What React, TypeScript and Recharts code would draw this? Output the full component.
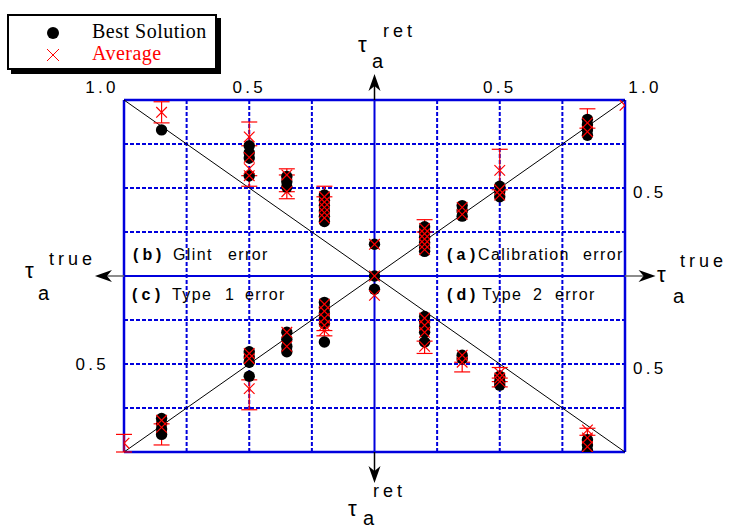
import { ScatterChart, Scatter, XAxis, YAxis, ReferenceLine, ErrorBar, Legend } from "recharts";

// each entry: [tau true, tau retrieved, optional error [lower, upper] on the retrieved value]
type Obs = [number, number] | [number, number, [number, number]];

const bestCalibration: Obs[] = [
  [0.2, 0.28], [0.2, 0.25], [0.2, 0.22], [0.2, 0.19], [0.2, 0.16], [0.2, 0.14],
  [0.35, 0.4], [0.35, 0.37], [0.35, 0.34],
  [0.5, 0.51], [0.5, 0.48], [0.5, 0.45],
  [0.85, 0.89], [0.85, 0.86], [0.85, 0.83], [0.85, 0.8],
  [0, 0.18], [0, 0],
];
const avgCalibration: Obs[] = [
  [1.0, 0.97],
  [0.85, 0.87, [0.03, 0.08]], [0.85, 0.82],
  [0.5, 0.6, [0.11, 0.12]], [0.5, 0.49], [0.5, 0.46],
  [0.35, 0.39], [0.35, 0.35],
  [0.2, 0.27, [0.02, 0.05]], [0.2, 0.24], [0.2, 0.21], [0.2, 0.18], [0.2, 0.15],
  [0, 0.18], [0, 0],
];

const bestGlint: Obs[] = [
  [0.85, 0.83],
  [0.5, 0.74], [0.5, 0.7], [0.5, 0.67], [0.5, 0.57],
  [0.35, 0.565], [0.35, 0.535], [0.35, 0.505],
  [0.2, 0.46], [0.2, 0.43], [0.2, 0.4], [0.2, 0.37], [0.2, 0.34], [0.2, 0.31],
];
const avgGlint: Obs[] = [
  [0.85, 0.93, [0.06, 0.06]],
  [0.5, 0.79, [0.05, 0.085]], [0.5, 0.674], [0.5, 0.61], [0.5, 0.57, [0.06, 0]],
  [0.35, 0.574, [0, 0.035]], [0.35, 0.479, [0.04, 0]],
  [0.2, 0.45, [0, 0.06]], [0.2, 0.42], [0.2, 0.39], [0.2, 0.36], [0.2, 0.33],
];

const bestType1: Obs[] = [
  [0.85, 0.81], [0.85, 0.84], [0.85, 0.87], [0.85, 0.9],
  [0.5, 0.43], [0.5, 0.46], [0.5, 0.49], [0.5, 0.57],
  [0.35, 0.32], [0.35, 0.36], [0.35, 0.4], [0.35, 0.43],
  [0.2, 0.15], [0.2, 0.18], [0.2, 0.21], [0.2, 0.24], [0.2, 0.27], [0.2, 0.375],
  [0, 0.075],
];
const avgType1: Obs[] = [
  [1.0, 0.95, [0.05, 0.05]],
  [0.85, 0.82], [0.85, 0.86, [0.02, 0.1]],
  [0.5, 0.44], [0.5, 0.47], [0.5, 0.64, [0.05, 0.12]],
  [0.35, 0.32], [0.35, 0.4],
  [0.2, 0.16], [0.2, 0.2], [0.2, 0.24], [0.2, 0.28], [0.2, 0.31, [0, 0.03]],
  [0, 0.11],
];

const bestType2: Obs[] = [
  [0.2, 0.23], [0.2, 0.26], [0.2, 0.29], [0.2, 0.32], [0.2, 0.375],
  [0.35, 0.45], [0.35, 0.47],
  [0.5, 0.57], [0.5, 0.6], [0.5, 0.62],
  [0.85, 0.93], [0.85, 0.96], [0.85, 0.99], [0.85, 1.0],
];
const avgType2: Obs[] = [
  [0.2, 0.24], [0.2, 0.28], [0.2, 0.32], [0.2, 0.4, [0.03, 0.04]],
  [0.35, 0.45], [0.35, 0.49, [0, 0.055]],
  [0.5, 0.55, [0.03, 0.03]], [0.5, 0.58], [0.5, 0.6, [0, 0.03]],
  [0.85, 0.875, [0.01, 0.03]], [0.85, 0.92], [0.85, 0.97],
];

const topTicks = [-1, -0.5, 0.5, 1];
const bottomTicks = [-1, -0.5, 0.5, 1];
const leftTicks = [-0.5];
const rightTicks = [0.5, -0.5];
const gridSteps = [-0.75, -0.5, -0.25, 0.25, 0.5, 0.75];
const legendNames = ["Best Solution", "Average"];

// quadrant signs: (a) +/+, (b) -/+, (c) -/-, (d) +/-
const quadrants = [
  { best: bestCalibration, avg: avgCalibration, sx: 1, sy: 1 },
  { best: bestGlint, avg: avgGlint, sx: -1, sy: 1 },
  { best: bestType1, avg: avgType1, sx: -1, sy: -1 },
  { best: bestType2, avg: avgType2, sx: 1, sy: -1 },
];

const toPoints = (list: Obs[], sx: number, sy: number) =>
  list.map((o) => {
    const e = o[2];
    return {
      x: sx * o[0],
      y: sy * o[1],
      err: e ? (sy > 0 ? e : [e[1], e[0]]) : undefined,
    };
  });

const bestData = quadrants.flatMap((q) => toPoints(q.best, q.sx, q.sy));
const avgData = quadrants.flatMap((q) => toPoints(q.avg, q.sx, q.sy));

const BLUE = "#0000dd";
const RED = "#ff0000";
const SANS = "'Liberation Sans', Arial, sans-serif";
const fmt = (v: number) => Math.abs(v).toFixed(1);

const Dot = (p: any) => <circle cx={p.cx} cy={p.cy} r={5.7} fill="#000" />;
const Cross = (p: any) => (
  <g stroke={RED} strokeWidth={1.2}>
    <line x1={p.cx - 5.3} y1={p.cy - 5.3} x2={p.cx + 5.3} y2={p.cy + 5.3} />
    <line x1={p.cx - 5.3} y1={p.cy + 5.3} x2={p.cx + 5.3} y2={p.cy - 5.3} />
  </g>
);

const tickText = { fontFamily: SANS, fontSize: 17, letterSpacing: 3.3, fill: "#000" };

const TopTick = (p: any) => {
  const v = p.payload.value;
  const dx = v === -1 ? -22 : v === 1 ? 20 : 0;
  return (
    <text x={p.x + dx} y={p.y + 1} textAnchor="middle" {...tickText}>
      {fmt(v)}
    </text>
  );
};
const BottomTick = (p: any) => {
  const v = p.payload.value;
  const dx = v === -1 ? -27 : v === 1 ? 22 : -3;
  return (
    <text x={p.x + dx} y={p.y + 18} textAnchor="middle" {...tickText}>
      {fmt(v)}
    </text>
  );
};
const LeftTick = (p: any) => (
  <text x={p.x - 7} y={p.y + 6} textAnchor="end" {...tickText}>
    {fmt(p.payload.value)}
  </text>
);
const RightTick = (p: any) => (
  <text x={p.x} y={p.y + 10} textAnchor="start" {...tickText}>
    {fmt(p.payload.value)}
  </text>
);

const arrow = (color: string) => (p: any) => {
  const { x1, y1, x2, y2 } = p;
  const dx = x2 - x1;
  const dy = y2 - y1;
  const len = Math.hypot(dx, dy) || 1;
  const ux = dx / len;
  const uy = dy / len;
  const bx = x2 - ux * 17;
  const by = y2 - uy * 17;
  const nx = x2 - ux * 12;
  const ny = y2 - uy * 12;
  const px = -uy * 6;
  const py = ux * 6;
  return (
    <g>
      <line x1={x1} y1={y1} x2={nx} y2={ny} stroke={color} strokeWidth={1.5} />
      <polygon points={`${x2},${y2} ${bx + px},${by + py} ${nx},${ny} ${bx - px},${by - py}`} fill="#000" />
    </g>
  );
};

const LegendBox = () => (
  <div style={{ position: "relative", width: 214, height: 60 }}>
    <div style={{ position: "absolute", left: 4, top: 4, width: 210, height: 56, background: "#000" }} />
    <div
      style={{
        position: "absolute",
        left: 0,
        top: 0,
        width: 206,
        height: 52,
        border: "2px solid #000",
        background: "#fff",
      }}
    >
      <svg width={206} height={52} style={{ display: "block" }}>
        <circle cx={44} cy={17} r={6} fill="#000" />
        <text x={83} y={22} fontFamily="'Liberation Serif', serif" fontSize={20} letterSpacing={0.5} fill="#000">
          {legendNames[0]}
        </text>
        <g stroke={RED} strokeWidth={1}>
          <line x1={38} y1={33} x2={50} y2={45} />
          <line x1={38} y1={45} x2={50} y2={33} />
        </g>
        <text x={83} y={44} fontFamily="'Liberation Serif', serif" fontSize={20} letterSpacing={0.5} fill={RED}>
          {legendNames[1]}
        </text>
      </svg>
    </div>
  </div>
);

const TauLabel = ({ x, y, sup, subX, subY, supX, supY }: any) => (
  <g fontFamily={SANS} fill="#000">
    <text x={x} y={y} fontSize={22}>τ</text>
    <text x={supX} y={supY} fontSize={18} letterSpacing={4}>{sup}</text>
    <text x={subX} y={subY} fontSize={20}>a</text>
  </g>
);

// tag letters are placed one by one: "( a )"
const Section = ({ letter, x, y, words }: any) => (
  <g fontFamily={SANS} fontSize={16} fill="#000">
    <g fontWeight="bold">
      <text x={x} y={y}>(</text>
      <text x={x + 9.5} y={y}>{letter}</text>
      <text x={x + 23} y={y}>)</text>
    </g>
    {words.map((w: any) => (
      <text key={w[0] + w[1]} x={w[1]} y={y} letterSpacing={1.4}>
        {w[0]}
      </text>
    ))}
  </g>
);

export default function App() {
  return (
    <div style={{ position: "absolute", left: 0, top: 0, width: 731, height: 529, background: "#fff" }}>
      <ScatterChart width={731} height={529} margin={{ top: 80, right: 66, bottom: 57, left: 84 }}>
        <XAxis
          type="number"
          dataKey="x"
          orientation="top"
          domain={[-1, 1]}
          allowDataOverflow
          ticks={topTicks}
          height={20}
          axisLine={false}
          tickLine={false}
          tick={TopTick}
        />
        <XAxis
          xAxisId="bottom"
          type="number"
          orientation="bottom"
          domain={[-1, 1]}
          allowDataOverflow
          ticks={bottomTicks}
          height={20}
          axisLine={false}
          tickLine={false}
          tick={BottomTick}
        />
        <YAxis
          type="number"
          dataKey="y"
          domain={[-1, 1]}
          allowDataOverflow
          ticks={leftTicks}
          width={40}
          axisLine={false}
          tickLine={false}
          tick={LeftTick}
        />
        <YAxis
          yAxisId="right"
          type="number"
          orientation="right"
          domain={[-1, 1]}
          allowDataOverflow
          ticks={rightTicks}
          width={40}
          axisLine={false}
          tickLine={false}
          tick={RightTick}
        />
        <Legend
          layout="horizontal"
          verticalAlign="middle"
          align="center"
          content={<LegendBox />}
          wrapperStyle={{ left: 7, top: 14, width: 214, height: 60 }}
        />

        {gridSteps.map((v) => (
          <ReferenceLine key={"gx" + v} x={v} stroke={BLUE} strokeWidth={2} strokeDasharray="4 2" />
        ))}
        {gridSteps.map((v) => (
          <ReferenceLine key={"gy" + v} y={v} stroke={BLUE} strokeWidth={2} strokeDasharray="4 2" />
        ))}
        <ReferenceLine x={0} stroke={BLUE} strokeWidth={2} />
        <ReferenceLine y={0} stroke={BLUE} strokeWidth={2} />
        <ReferenceLine x={-1} stroke={BLUE} strokeWidth={2.5} />
        <ReferenceLine x={1} stroke={BLUE} strokeWidth={2.5} />
        <ReferenceLine y={-1} stroke={BLUE} strokeWidth={2.5} />
        <ReferenceLine y={1} stroke={BLUE} strokeWidth={2.5} />
        <ReferenceLine segment={[{ x: -1, y: 1 }, { x: 1, y: -1 }]} stroke="#000" strokeWidth={1} />
        <ReferenceLine segment={[{ x: -1, y: -1 }, { x: 1, y: 1 }]} stroke="#000" strokeWidth={1} />

        <ReferenceLine ifOverflow="visible" segment={[{ x: 0, y: 1 }, { x: 0, y: 1.148 }]} shape={arrow("#000")} />
        <ReferenceLine ifOverflow="visible" segment={[{ x: 0, y: -1 }, { x: 0, y: -1.176 }]} shape={arrow("#000")} />
        <ReferenceLine ifOverflow="visible" segment={[{ x: -1, y: 0 }, { x: -1.116, y: 0 }]} shape={arrow("#666")} />
        <ReferenceLine ifOverflow="visible" segment={[{ x: 1, y: 0 }, { x: 1.122, y: 0 }]} shape={arrow("#666")} />

        <Scatter name={legendNames[0]} data={bestData} fill="#000" shape={Dot} isAnimationActive={false} />
        <Scatter name={legendNames[1]} data={avgData} fill={RED} shape={Cross} isAnimationActive={false}>
          <ErrorBar dataKey="err" direction="y" width={8} stroke={RED} strokeWidth={1.2} />
        </Scatter>
      </ScatterChart>

      <svg width={731} height={529} style={{ position: "absolute", left: 0, top: 0, pointerEvents: "none" }}>
        <TauLabel x={358} y={52} sup="ret" supX={383} supY={37} subX={372} subY={68} />
        <TauLabel x={25} y={278} sup="true" supX={49} supY={265} subX={38} subY={300} />
        <TauLabel x={657} y={282} sup="true" supX={680} supY={267} subX={673} subY={303} />
        <TauLabel x={348} y={516} sup="ret" supX={373} supY={497} subX={363} subY={525} />

        <Section letter="b" x={133} y={260} words={[["Glint", 173], ["error", 228]]} />
        <Section letter="a" x={447} y={260} words={[["Calibration", 478], ["error", 583]]} />
        <Section letter="c" x={132} y={300} words={[["Type", 172], ["1", 225], ["error", 245]]} />
        <Section letter="d" x={447} y={300} words={[["Type", 482], ["2", 533], ["error", 555]]} />
      </svg>
    </div>
  );
}
